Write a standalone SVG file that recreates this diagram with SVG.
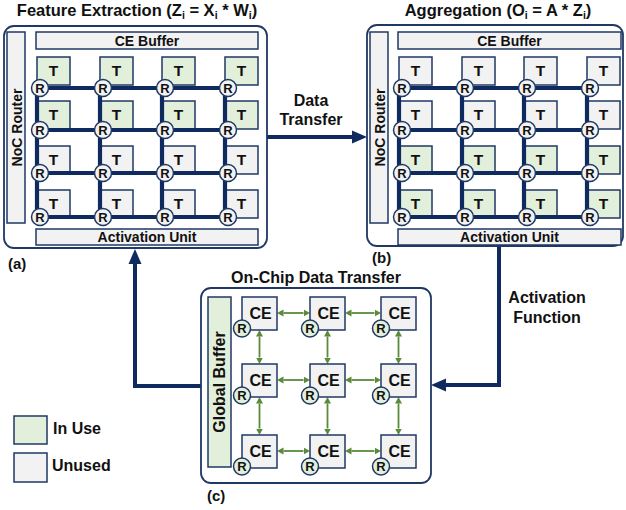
<svg xmlns="http://www.w3.org/2000/svg" width="626" height="510" viewBox="0 0 626 510">
<style>
text{font-family:"Liberation Sans",Arial,sans-serif;font-weight:bold;fill:#111}
.panel{fill:#fff;stroke:#1f3864;stroke-width:1.8}
.bar{fill:#f2f2f2;stroke:#1f3864;stroke-width:1.5}
.gbar{fill:#e2efda;stroke:#1f3864;stroke-width:1.5}
.use{fill:#e2efda;stroke:#1f3864;stroke-width:1.5}
.un{fill:#f2f2f2;stroke:#1f3864;stroke-width:1.5}
.mesh{stroke:#0f2a5e;stroke-width:4.2;fill:none}
.rc{fill:#f2f2f2;stroke:#1f3864;stroke-width:1.5}
.rg{fill:#e2efda;stroke:#1f3864;stroke-width:1.5}
.t{font-size:15.5px;text-anchor:middle}
.r{font-size:13px;text-anchor:middle}
.lbl{font-size:14px;text-anchor:middle}
.lbl2{font-size:16px;text-anchor:middle}
.ce{font-size:16px;text-anchor:middle}
.title{font-size:16.5px;text-anchor:middle}
.sub{font-size:10.5px}
.big{stroke:#0f2a5e;stroke-width:4;fill:none}
.ga{stroke:#5a8a3a;stroke-width:1.8;fill:none;marker-start:url(#ga);marker-end:url(#ga)}
</style>
<defs>
<marker id="na" markerUnits="userSpaceOnUse" markerWidth="16" markerHeight="14" refX="0" refY="7" orient="auto"><path d="M0,0.5 L15,7 L0,13.5 z" fill="#0f2a5e"/></marker>
<marker id="ga" markerUnits="userSpaceOnUse" markerWidth="7" markerHeight="8" refX="0" refY="4" orient="auto-start-reverse"><path d="M0,0.5 L6.5,4 L0,7.5 z" fill="#5a8a3a"/></marker>
</defs>

<!-- Titles -->
<text class="title" x="137" y="15.5">Feature Extraction (Z<tspan class="sub" dy="3">i</tspan><tspan dy="-3"> = X</tspan><tspan class="sub" dy="3">i</tspan><tspan dy="-3"> * W</tspan><tspan class="sub" dy="3">i</tspan><tspan dy="-3">)</tspan></text>
<text class="title" x="498" y="16">Aggregation (O<tspan class="sub" dy="3">i</tspan><tspan dy="-3"> = A * Z</tspan><tspan class="sub" dy="3">i</tspan><tspan dy="-3">)</tspan></text>
<text class="lbl2" x="316" y="283">On-Chip Data Transfer</text>
<text x="8" y="269" style="font-size:15px">(a)</text>
<text x="372" y="263" style="font-size:15px">(b)</text>
<text x="207" y="501" style="font-size:15px">(c)</text>

<!-- Connectors -->
<g id="connectors">
<path class="big" d="M267,137 H352" marker-end="url(#na)"/>
<path class="big" d="M499,246 V385 H446" marker-end="url(#na)" stroke-linejoin="miter"/>
<path class="big" d="M201,386 H135 V264" marker-end="url(#na)" stroke-linejoin="miter"/>
<text class="lbl2" x="311" y="106">Data</text>
<text class="lbl2" x="311" y="125">Transfer</text>
<text class="lbl2" x="547" y="303">Activation</text>
<text class="lbl2" x="547" y="323">Function</text>
</g>

<!-- Panel (a) -->
<g id="panel-a">
<rect class="panel" x="4" y="26" width="263" height="222" rx="10"/>
<rect class="bar" x="7" y="32" width="18" height="191"/>
<text class="lbl" transform="translate(16.5,127.5) rotate(-90)" y="5">NoC Router</text>
<rect class="bar" x="36" y="32" width="222" height="17"/>
<text class="lbl" x="147" y="45.5">CE Buffer</text>
<rect class="bar" x="36" y="229" width="222" height="16"/>
<text class="lbl" x="147" y="242">Activation Unit</text>
<g id="a-tiles">
<rect class="use" x="37" y="57" width="33" height="28"/><rect class="use" x="100" y="57" width="33" height="28"/><rect class="use" x="162" y="57" width="33" height="28"/><rect class="use" x="225" y="57" width="33" height="28"/>
<rect class="use" x="37" y="101" width="33" height="28"/><rect class="use" x="100" y="101" width="33" height="28"/><rect class="use" x="162" y="101" width="33" height="28"/><rect class="use" x="225" y="101" width="33" height="28"/>
<rect class="un" x="37" y="146" width="33" height="28"/><rect class="un" x="100" y="146" width="33" height="28"/><rect class="un" x="162" y="146" width="33" height="28"/><rect class="un" x="225" y="146" width="33" height="28"/>
<rect class="un" x="37" y="190" width="33" height="28"/><rect class="un" x="100" y="190" width="33" height="28"/><rect class="un" x="162" y="190" width="33" height="28"/><rect class="un" x="225" y="190" width="33" height="28"/>
</g>
<g>
<text class="t" x="53.5" y="76">T</text><text class="t" x="116.5" y="76">T</text><text class="t" x="178.5" y="76">T</text><text class="t" x="241.5" y="76">T</text>
<text class="t" x="53.5" y="120">T</text><text class="t" x="116.5" y="120">T</text><text class="t" x="178.5" y="120">T</text><text class="t" x="241.5" y="120">T</text>
<text class="t" x="53.5" y="165">T</text><text class="t" x="116.5" y="165">T</text><text class="t" x="178.5" y="165">T</text><text class="t" x="241.5" y="165">T</text>
<text class="t" x="53.5" y="209">T</text><text class="t" x="116.5" y="209">T</text><text class="t" x="178.5" y="209">T</text><text class="t" x="241.5" y="209">T</text>
</g>
<path class="mesh" d="M40,88 H228 M40,130 H228 M40,173 H228 M40,217 H228 M37,88 V217 M100,88 V217 M162,88 V217 M225,88 V217"/>
<g id="a-routers">
<circle class="rc" cx="40" cy="88" r="8.5"/><circle class="rc" cx="103" cy="88" r="8.5"/><circle class="rc" cx="165" cy="88" r="8.5"/><circle class="rc" cx="228" cy="88" r="8.5"/>
<circle class="rc" cx="40" cy="130" r="8.5"/><circle class="rc" cx="103" cy="130" r="8.5"/><circle class="rc" cx="165" cy="130" r="8.5"/><circle class="rc" cx="228" cy="130" r="8.5"/>
<circle class="rc" cx="40" cy="173" r="8.5"/><circle class="rc" cx="103" cy="173" r="8.5"/><circle class="rc" cx="165" cy="173" r="8.5"/><circle class="rc" cx="228" cy="173" r="8.5"/>
<circle class="rc" cx="40" cy="217" r="8.5"/><circle class="rc" cx="103" cy="217" r="8.5"/><circle class="rc" cx="165" cy="217" r="8.5"/><circle class="rc" cx="228" cy="217" r="8.5"/>
<text class="r" x="40" y="92.5">R</text><text class="r" x="103" y="92.5">R</text><text class="r" x="165" y="92.5">R</text><text class="r" x="228" y="92.5">R</text>
<text class="r" x="40" y="134.5">R</text><text class="r" x="103" y="134.5">R</text><text class="r" x="165" y="134.5">R</text><text class="r" x="228" y="134.5">R</text>
<text class="r" x="40" y="177.5">R</text><text class="r" x="103" y="177.5">R</text><text class="r" x="165" y="177.5">R</text><text class="r" x="228" y="177.5">R</text>
<text class="r" x="40" y="221.5">R</text><text class="r" x="103" y="221.5">R</text><text class="r" x="165" y="221.5">R</text><text class="r" x="228" y="221.5">R</text>
</g>
</g>

<!-- Panel (b) -->
<g id="panel-b">
<rect class="panel" x="367" y="25" width="256" height="221" rx="10"/>
<rect class="bar" x="370" y="32" width="18" height="191"/>
<text class="lbl" transform="translate(379.5,127.5) rotate(-90)" y="5">NoC Router</text>
<rect class="bar" x="398" y="32" width="223" height="17"/>
<text class="lbl" x="509.5" y="45.5">CE Buffer</text>
<rect class="bar" x="398" y="229" width="223" height="16"/>
<text class="lbl" x="509.5" y="242">Activation Unit</text>
<g transform="translate(362,0)">
<rect class="un" x="37" y="57" width="33" height="28"/><rect class="un" x="100" y="57" width="33" height="28"/><rect class="un" x="162" y="57" width="33" height="28"/><rect class="un" x="225" y="57" width="33" height="28"/>
<rect class="un" x="37" y="101" width="33" height="28"/><rect class="un" x="100" y="101" width="33" height="28"/><rect class="un" x="162" y="101" width="33" height="28"/><rect class="un" x="225" y="101" width="33" height="28"/>
<rect class="use" x="37" y="146" width="33" height="28"/><rect class="use" x="100" y="146" width="33" height="28"/><rect class="use" x="162" y="146" width="33" height="28"/><rect class="use" x="225" y="146" width="33" height="28"/>
<rect class="use" x="37" y="190" width="33" height="28"/><rect class="use" x="100" y="190" width="33" height="28"/><rect class="use" x="162" y="190" width="33" height="28"/><rect class="use" x="225" y="190" width="33" height="28"/>
<text class="t" x="53.5" y="76">T</text><text class="t" x="116.5" y="76">T</text><text class="t" x="178.5" y="76">T</text><text class="t" x="241.5" y="76">T</text>
<text class="t" x="53.5" y="120">T</text><text class="t" x="116.5" y="120">T</text><text class="t" x="178.5" y="120">T</text><text class="t" x="241.5" y="120">T</text>
<text class="t" x="53.5" y="165">T</text><text class="t" x="116.5" y="165">T</text><text class="t" x="178.5" y="165">T</text><text class="t" x="241.5" y="165">T</text>
<text class="t" x="53.5" y="209">T</text><text class="t" x="116.5" y="209">T</text><text class="t" x="178.5" y="209">T</text><text class="t" x="241.5" y="209">T</text>
<path class="mesh" d="M40,88 H228 M40,130 H228 M40,173 H228 M40,217 H228 M37,88 V217 M100,88 V217 M162,88 V217 M225,88 V217"/>
<circle class="rc" cx="40" cy="88" r="8.5"/><circle class="rc" cx="103" cy="88" r="8.5"/><circle class="rc" cx="165" cy="88" r="8.5"/><circle class="rc" cx="228" cy="88" r="8.5"/>
<circle class="rc" cx="40" cy="130" r="8.5"/><circle class="rc" cx="103" cy="130" r="8.5"/><circle class="rc" cx="165" cy="130" r="8.5"/><circle class="rc" cx="228" cy="130" r="8.5"/>
<circle class="rc" cx="40" cy="173" r="8.5"/><circle class="rc" cx="103" cy="173" r="8.5"/><circle class="rc" cx="165" cy="173" r="8.5"/><circle class="rc" cx="228" cy="173" r="8.5"/>
<circle class="rc" cx="40" cy="217" r="8.5"/><circle class="rc" cx="103" cy="217" r="8.5"/><circle class="rc" cx="165" cy="217" r="8.5"/><circle class="rc" cx="228" cy="217" r="8.5"/>
<text class="r" x="40" y="92.5">R</text><text class="r" x="103" y="92.5">R</text><text class="r" x="165" y="92.5">R</text><text class="r" x="228" y="92.5">R</text>
<text class="r" x="40" y="134.5">R</text><text class="r" x="103" y="134.5">R</text><text class="r" x="165" y="134.5">R</text><text class="r" x="228" y="134.5">R</text>
<text class="r" x="40" y="177.5">R</text><text class="r" x="103" y="177.5">R</text><text class="r" x="165" y="177.5">R</text><text class="r" x="228" y="177.5">R</text>
<text class="r" x="40" y="221.5">R</text><text class="r" x="103" y="221.5">R</text><text class="r" x="165" y="221.5">R</text><text class="r" x="228" y="221.5">R</text>
</g>
</g>

<!-- Panel (c) -->
<g id="panel-c">
<rect class="panel" x="201" y="288" width="230" height="195" rx="10"/>
<rect class="gbar" x="208" y="297" width="23" height="170"/>
<text class="lbl2" transform="translate(219.5,382) rotate(-90)" y="5.5">Global Buffer</text>
<g id="ce-arrows">
<path class="ga" d="M283.5,313 H303.5"/><path class="ga" d="M351.5,313 H374.5"/>
<path class="ga" d="M283.5,380 H303.5"/><path class="ga" d="M351.5,380 H374.5"/>
<path class="ga" d="M283.5,451 H303.5"/><path class="ga" d="M351.5,451 H374.5"/>
<path class="ga" d="M259.5,336.5 V357.5"/><path class="ga" d="M327.5,336.5 V357.5"/><path class="ga" d="M398.5,336.5 V357.5"/>
<path class="ga" d="M259.5,403.5 V428.5"/><path class="ga" d="M327.5,403.5 V428.5"/><path class="ga" d="M398.5,403.5 V428.5"/>
</g>
<g id="ce-nodes">
<rect class="un" x="242" y="297" width="35" height="33"/><rect class="un" x="310" y="297" width="35" height="33"/><rect class="un" x="381" y="297" width="35" height="33"/>
<rect class="un" x="242" y="364" width="35" height="33"/><rect class="un" x="310" y="364" width="35" height="33"/><rect class="un" x="381" y="364" width="35" height="33"/>
<rect class="un" x="242" y="435" width="35" height="33"/><rect class="un" x="310" y="435" width="35" height="33"/><rect class="un" x="381" y="435" width="35" height="33"/>
<text class="ce" x="260.5" y="319">CE</text><text class="ce" x="328.5" y="319">CE</text><text class="ce" x="399.5" y="319">CE</text>
<text class="ce" x="260.5" y="386">CE</text><text class="ce" x="328.5" y="386">CE</text><text class="ce" x="399.5" y="386">CE</text>
<text class="ce" x="260.5" y="457">CE</text><text class="ce" x="328.5" y="457">CE</text><text class="ce" x="399.5" y="457">CE</text>
<circle class="rg" cx="242" cy="328.5" r="8.5"/><circle class="rg" cx="310" cy="328.5" r="8.5"/><circle class="rg" cx="381" cy="328.5" r="8.5"/>
<circle class="rg" cx="242" cy="395.5" r="8.5"/><circle class="rg" cx="310" cy="395.5" r="8.5"/><circle class="rg" cx="381" cy="395.5" r="8.5"/>
<circle class="rg" cx="242" cy="466.5" r="8.5"/><circle class="rg" cx="310" cy="466.5" r="8.5"/><circle class="rg" cx="381" cy="466.5" r="8.5"/>
<text class="r" x="242" y="333">R</text><text class="r" x="310" y="333">R</text><text class="r" x="381" y="333">R</text>
<text class="r" x="242" y="400">R</text><text class="r" x="310" y="400">R</text><text class="r" x="381" y="400">R</text>
<text class="r" x="242" y="471">R</text><text class="r" x="310" y="471">R</text><text class="r" x="381" y="471">R</text>
</g>
</g>

<!-- Legend -->
<g id="legend">
<rect class="use" x="14" y="416" width="33" height="28"/>
<text x="53" y="434" style="font-size:16px">In Use</text>
<rect class="un" x="14" y="453" width="33" height="29"/>
<text x="52" y="471" style="font-size:16px">Unused</text>
</g>
</svg>
